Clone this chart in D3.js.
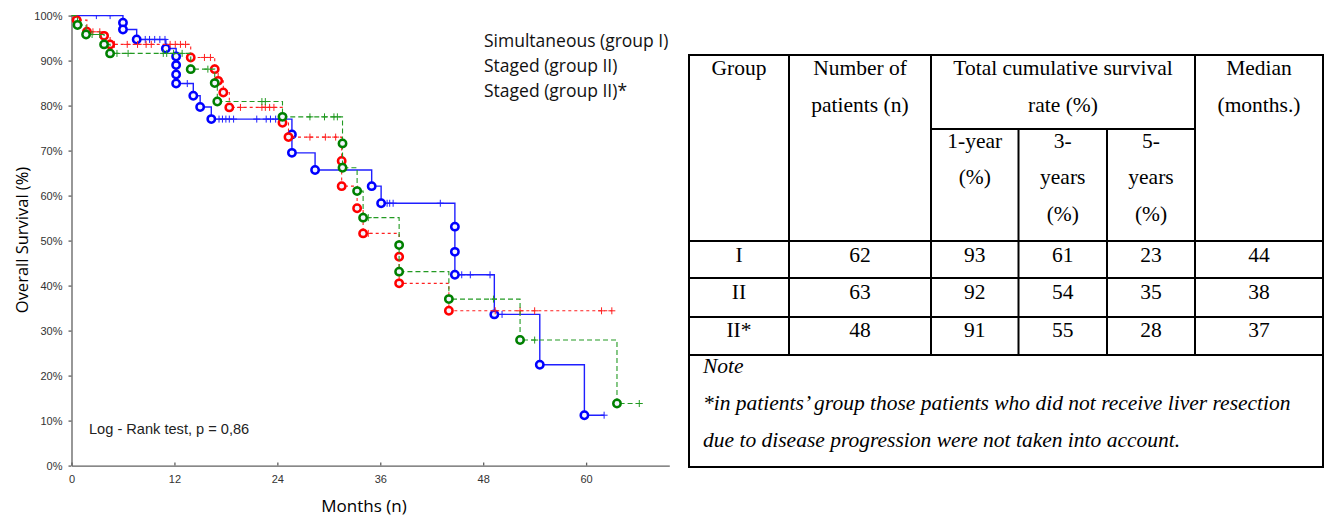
<!DOCTYPE html>
<html>
<head>
<meta charset="utf-8">
<script src="https://cdn.jsdelivr.net/npm/d3@7"></script>
<style>
  body { margin: 0; background: #fff; }
  .tick text { font-family: "Liberation Sans", Arial, sans-serif; font-size: 11px; fill: #333; }
  .axis path, .axis line { stroke: #606060; stroke-width: 1.3; }
</style>
</head>
<body>
<div id="wrapper"></div>
<script>
// ---- survival data (months, % surviving after each event, censored times) ----
const blueTimes = [6.0, 6.0, 7.6, 11.0, 12.2, 12.2, 12.2, 12.2, 14.2, 15.0, 16.3, 25.7, 25.7, 28.4, 35.0, 36.1, 44.7, 44.7, 44.7, 49.3, 54.6, 59.8]
const blueSurv = [98.4, 96.9, 94.7, 92.7, 90.9, 89.0, 86.9, 84.9, 82.2, 79.7, 77.0, 73.6, 69.5, 65.7, 62.1, 58.3, 53.1, 47.5, 42.4, 33.6, 22.4, 11.2]
const blueCensor = [2.9, 4.5, 8.6, 9.1, 9.7, 10.3, 10.9, 13.5, 17.2, 17.6, 18.0, 18.4, 18.9, 21.6, 22.7, 23.2, 23.8, 24.4, 36.8, 37.1, 37.5, 43.0, 45.5, 46.5, 48.8, 50.2, 62.1]

const redTimes = [0.6, 1.8, 3.8, 4.5, 13.9, 16.7, 17.1, 17.7, 18.4, 24.6, 25.3, 31.5, 31.5, 33.3, 34.0, 38.2, 38.2, 44.0]
const redSurv = [99.0, 96.4, 95.5, 93.6, 90.7, 88.1, 85.5, 82.9, 79.6, 76.2, 73.0, 67.7, 62.1, 57.2, 51.6, 46.4, 40.5, 34.4]
const redCensor = [2.5, 3.3, 5.0, 6.5, 7.7, 8.7, 9.3, 11.5, 12.1, 12.7, 13.3, 15.5, 16.2, 19.7, 22.2, 22.6, 23.1, 23.6, 27.8, 29.6, 30.8, 34.6, 49.4, 52.3, 54.0, 61.8, 63.0]

const greenTimes = [0.7, 1.7, 3.8, 4.5, 13.9, 16.7, 17.0, 24.6, 31.6, 31.6, 33.3, 34.0, 38.2, 38.2, 44.0, 52.3, 63.6]
const greenSurv = [97.9, 95.8, 93.6, 91.6, 88.1, 85.0, 80.9, 77.5, 71.6, 66.2, 61.0, 55.1, 49.0, 43.1, 37.0, 27.9, 13.8]
const greenCensor = [2.4, 3.3, 5.3, 6.6, 10.7, 11.1, 11.9, 12.9, 15.9, 22.2, 22.6, 27.8, 29.5, 30.6, 31.0, 34.6, 49.2, 54.0, 66.2]

const yTicks = [0, 10, 20, 30, 40, 50, 60, 70, 80, 90, 100]
const xTicks = [0, 12, 24, 36, 48, 60]
const legendLabels = ["Simultaneous (group I)", "Staged (group II)", "Staged (group II)*"]

// ---- table data ----
const groups = ["I", "II", "II*"]
const patients = [62, 63, 48]
const oneYear = [93, 92, 91]
const threeYears = [61, 54, 55]
const fiveYears = [23, 35, 28]
const medians = [44, 38, 37]
const noteLines = [
  "Note",
  "*in patients\u2019 group those patients who did not receive liver resection",
  "due to disease progression were not taken into account."
]

const series = [
  { times: blueTimes, surv: blueSurv, censor: blueCensor, color: "#0000ff", lineColor: "#1f1fff", width: 1.4, dash: null },
  { times: redTimes, surv: redSurv, censor: redCensor, color: "#ff0000", lineColor: "#ff2020", width: 1.1, dash: "3,3" },
  { times: greenTimes, surv: greenSurv, censor: greenCensor, color: "#008000", lineColor: "#239a23", width: 1.1, dash: "5,3" },
]

const svg = d3.select("#wrapper").append("svg")
    .attr("width", 1326)
    .attr("height", 518)

const x = d3.scaleLinear().domain([0, 69.7]).range([71.5, 669.3])
const y = d3.scaleLinear().domain([0, 100]).range([465.6, 15.6])

// clip marks at the top of the plot (censor ticks at 100% are cut)
svg.append("clipPath").attr("id", "plotclip")
  .append("rect")
    .attr("x", x(0)).attr("y", y(100) - 0.5)
    .attr("width", x(69.7) - x(0)).attr("height", y(0) - y(100) + 0.5)

// axes
svg.append("g")
    .attr("class", "axis")
    .attr("transform", `translate(${x(0)},0)`)
    .call(d3.axisLeft(y).tickValues(yTicks).tickFormat(d => d + "%").tickSizeInner(3).tickSizeOuter(0).tickPadding(6))

const xAxis = svg.append("g")
    .attr("class", "axis")
    .attr("transform", `translate(0,${y(0)})`)
    .call(d3.axisBottom(x).tickValues(xTicks).tickSizeInner(-3).tickSizeOuter(0))
xAxis.selectAll("text").attr("y", 10)

// curves
const survAt = (s, t) => {
  let v = 100
  s.times.forEach((tt, i) => { if (tt <= t) v = s.surv[i] })
  return v
}
const line = d3.line().x(d => x(d[0])).y(d => y(d[1])).curve(d3.curveStepAfter)

series.forEach(s => {
  const pts = [[0, 100]]
  s.times.forEach((t, i) => pts.push([t, s.surv[i]]))
  const tEnd = Math.max(d3.max(s.times), d3.max(s.censor))
  pts.push([tEnd, s.surv[s.surv.length - 1]])

  const g = svg.append("g")
  g.append("path")
      .attr("d", line(pts))
      .attr("fill", "none")
      .attr("stroke", s.lineColor)
      .attr("stroke-width", s.width)
      .attr("stroke-dasharray", s.dash)

  g.append("g").attr("clip-path", "url(#plotclip)")
    .selectAll(".cens")
    .data(s.censor)
    .join("path")
      .attr("class", "cens")
      .attr("d", t => {
        const cx = x(t), cy = y(survAt(s, t))
        return `M${cx - 3.5},${cy}H${cx + 3.5}M${cx},${cy - 3.5}V${cy + 3.5}`
      })
      .attr("stroke", s.lineColor)
      .attr("stroke-width", 1)

  g.selectAll("circle")
    .data(s.times.map((t, i) => [t, s.surv[i]]))
    .join("circle")
      .attr("cx", d => x(d[0]))
      .attr("cy", d => y(d[1]))
      .attr("r", 3.7)
      .attr("fill", "#f4f4ff")
      .attr("stroke", s.color)
      .attr("stroke-width", 2.5)
})

// axis titles
svg.append("text")
    .attr("transform", "translate(28,240) rotate(-90)")
    .attr("text-anchor", "middle")
    .style("font-family", "'Open Sans', sans-serif")
    .style("font-size", "16.5px")
    .text("Overall Survival (%)")

svg.append("text")
    .attr("x", 364).attr("y", 512)
    .attr("text-anchor", "middle")
    .style("font-family", "'Open Sans', sans-serif")
    .style("font-size", "17px")
    .text("Months (n)")

svg.append("text")
    .attr("x", 89).attr("y", 434)
    .style("font-family", "'Liberation Sans', Arial, sans-serif")
    .style("font-size", "14.6px")
    .attr("fill", "#222")
    .text("Log - Rank test, p = 0,86")

// legend
svg.append("g").selectAll("text")
  .data(legendLabels)
  .join("text")
    .attr("x", 484)
    .attr("y", (d, i) => 47 + i * 25)
    .style("font-family", "'Open Sans', sans-serif")
    .style("font-size", "17.5px")
    .attr("fill", "#111")
    .text(d => d)

// ---- table ----
const tbl = svg.append("g")
    .style("font-family", "'Liberation Serif', 'Times New Roman', serif")
    .style("font-size", "21.5px")

const colX = [689, 789, 931, 1018.5, 1107, 1195, 1323]
const rowY = [55, 241, 278, 317, 355, 467]
const subY = 129

const hLines = [
  [colX[0], colX[6], rowY[0]],
  [colX[2], colX[5], subY],
  [colX[0], colX[6], rowY[1]],
  [colX[0], colX[6], rowY[2]],
  [colX[0], colX[6], rowY[3]],
  [colX[0], colX[6], rowY[4]],
  [colX[0], colX[6], rowY[5]],
]
const vLines = [
  [colX[0], rowY[0], rowY[5]],
  [colX[6], rowY[0], rowY[5]],
  [colX[1], rowY[0], rowY[4]],
  [colX[2], rowY[0], rowY[4]],
  [colX[5], rowY[0], rowY[4]],
  [colX[3], subY, rowY[4]],
  [colX[4], subY, rowY[4]],
]
tbl.selectAll(".h").data(hLines).join("line").attr("class", "h")
    .attr("x1", d => d[0] - 1).attr("x2", d => d[1] + 1).attr("y1", d => d[2]).attr("y2", d => d[2])
    .attr("stroke", "#000").attr("stroke-width", 2)
tbl.selectAll(".v").data(vLines).join("line").attr("class", "v")
    .attr("x1", d => d[0]).attr("x2", d => d[0]).attr("y1", d => d[1]).attr("y2", d => d[2])
    .attr("stroke", "#000").attr("stroke-width", 2)

const mid = (a, b) => (colX[a] + colX[b]) / 2
const headerCells = [
  [mid(0, 1), 75, "Group"],
  [mid(1, 2), 75, "Number of"],
  [mid(1, 2), 112, "patients (n)"],
  [mid(2, 5), 75, "Total cumulative survival"],
  [mid(2, 5), 112, "rate (%)"],
  [mid(5, 6), 75, "Median"],
  [mid(5, 6), 112, "(months.)"],
  [mid(2, 3), 148, "1-year"],
  [mid(2, 3), 184, "(%)"],
  [mid(3, 4), 148, "3-"],
  [mid(3, 4), 184, "years"],
  [mid(3, 4), 221, "(%)"],
  [mid(4, 5), 148, "5-"],
  [mid(4, 5), 184, "years"],
  [mid(4, 5), 221, "(%)"],
]
tbl.selectAll(".hd").data(headerCells).join("text").attr("class", "hd")
    .attr("x", d => d[0]).attr("y", d => d[1])
    .attr("text-anchor", "middle")
    .text(d => d[2])

const rowBase = [262, 299, 337]
const columns = [groups, patients, oneYear, threeYears, fiveYears, medians]
columns.forEach((col, c) => {
  tbl.selectAll(".c" + c).data(col).join("text").attr("class", "c" + c)
      .attr("x", mid(c, c + 1))
      .attr("y", (d, i) => rowBase[i])
      .attr("text-anchor", "middle")
      .text(d => d)
})

tbl.selectAll(".note").data(noteLines).join("text").attr("class", "note")
    .attr("x", 703)
    .attr("y", (d, i) => 373 + i * 37)
    .style("font-style", "italic")
    .text(d => d)
</script>
</body>
</html>
